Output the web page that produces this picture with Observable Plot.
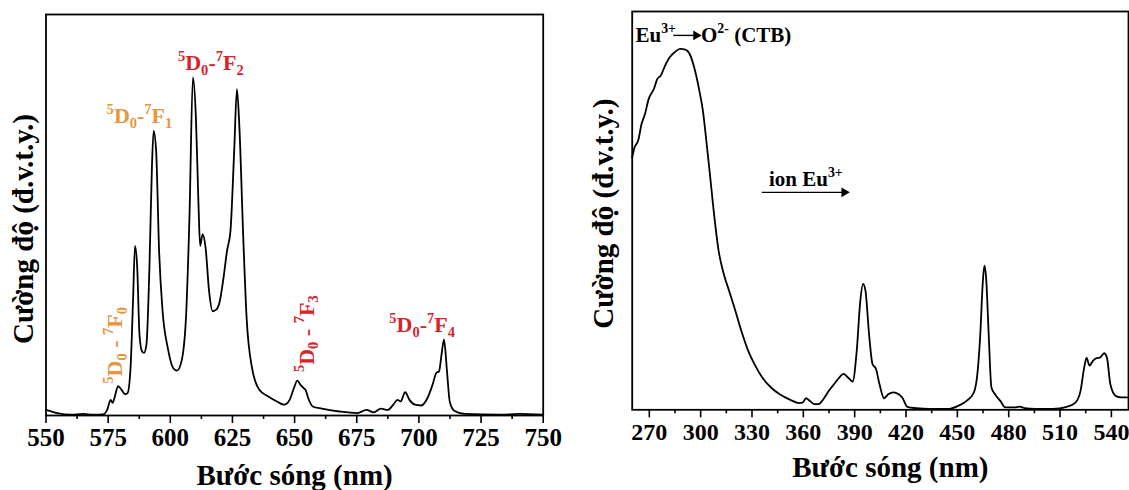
<!DOCTYPE html>
<html><head><meta charset="utf-8">
<script src="https://cdn.jsdelivr.net/npm/d3@7"></script>
<script src="https://cdn.jsdelivr.net/npm/@observablehq/plot@0.6"></script>
<style>
body{margin:0;background:#fff;}
#wrap{position:relative;width:1129px;height:490px;overflow:hidden;background:#fff;}
#left{position:absolute;left:0;top:0;}
#right{position:absolute;left:580px;top:0;}
</style></head><body><div id="wrap"><div id="left"></div><div id="right"></div></div>
<script>
// ---- Emission spectrum (left) ----
const emWavelength = [550,554.5,560,565,569,573,574.6,576,576.8,577.5,579,580.4,581.8,582.8,584,585,585.8,586.7,587.6,588.6,589.4,590.4,591.6,592.6,593.3,594.3,595.5,596.9,599,601.2,602.7,604.5,606.3,607.7,609.1,610.3,611.3,612,613,614.2,615.6,617,618.5,619.9,621.4,622.8,624.2,625.7,626.8,627.8,629.3,630.7,632.9,635.8,639.4,642.9,645.8,648,649.7,651.1,652.3,653.7,654.4,655.5,657.3,661,668,675.3,678.9,681.8,684.7,687.5,689.7,691.4,692.6,694.5,696.2,698.4,700.9,703.4,705.5,707,708.1,709.1,710.1,711.3,712.4,714.2,718.5,732.9,740,750];
const emIntensity = [1.4,0.6,0.2,0.4,0.2,0.3,1.4,3.9,3.1,4.3,7.3,6.4,5.3,5.6,11.8,28.5,42.3,36.8,20.2,16,15.6,17.7,36.8,61.8,71,66,41,26,16.8,11.8,11.2,13.5,24.3,49.3,84.3,74.3,53.5,42.3,45.2,41.8,31,26,26.4,28.5,34.3,41,46,66,81.4,71.8,45.2,24.3,11.8,6.4,4.75,3.5,2.7,3.9,6.8,8.7,7.7,6.8,6.4,4.3,2.25,1.7,1,0.6,1.4,0.8,1.7,1.4,2.7,3.9,3.5,5.8,3.9,2.7,2.5,4.3,7.7,10.6,11,15.2,18.9,11,3.5,1.2,0.4,0.2,0.4,0.2];
const emMajorTicks = [550,575,600,625,650,675,700,725,750];
const emMinorTicks = [562.5,587.5,612.5,637.5,662.5,687.5,712.5,737.5];
const emLabelText = ["^{5}D_{0} - ^{7}F_{0}","^{5}D_{0}-^{7}F_{1}","^{5}D_{0}-^{7}F_{2}","^{5}D_{0} - ^{7}F_{3}","^{5}D_{0}-^{7}F_{4}"];
const emLabelX = [577.8,587.6,616.3,654.8,701.3];
const emLabelY = [17.5,74.6,87.8,20.4,22.5];
const emLabelRotate = [-90,0,0,-90,0];
const emLabelColor = ["#e6963c","#e6963c","#d9232b","#d9232b","#d9232b"];

// ---- Excitation spectrum (right) ----
const exWavelength = [260,261.4,263.5,265.5,267.5,269.6,272.7,274.7,276.7,278.8,281.9,284.9,288,291.1,293.5,296.2,299.2,301.3,303.3,305.4,307.4,310.5,313.5,316.6,319.7,323.8,327.8,331.9,336,341.1,346.2,352.4,357.5,359.5,361.6,363.6,366.7,368.7,371.8,374.9,377.9,381,383.4,386.1,388.8,391.2,393.3,394.9,396.3,398.4,400.4,402.5,404.5,407.2,409.6,412.7,415.7,417.8,420.8,426,434.1,444.4,450.5,455.6,459.7,461.7,463.4,464.8,465.8,466.8,468.3,469.9,472,475,478.1,483.2,486.3,489.3,495.5,505.7,513.9,519,522,524.1,525.5,527.2,529.2,531.3,533.3,535.7,537.4,539.4,542.5,545.6,549.2];
const exIntensity = [63.4,65.9,67.6,71.8,74.3,78,80.6,83.1,83.9,86,88.5,89.8,90.6,90.4,89.4,86,80.2,75.1,67.6,59.2,50.8,39.9,34.1,29.9,25.7,19.8,14.8,11.1,8.1,5.6,3.9,2.5,1.7,1.8,2.9,2.3,1.4,1.4,2.7,4.8,6.4,8.1,9,8.1,7.1,14.8,27.4,31.6,29.9,19,11.5,10.2,6.4,2.9,3.9,4.4,3.9,3.1,0.75,0.4,0.2,0.2,1,2.3,4.4,9,19,31.6,36.2,33.2,19,5.6,3.9,2.3,0.6,0.6,0.8,0.4,0.2,0.2,0.75,1.8,4.8,10.6,13,11.1,12.3,13,13.1,14.2,13.1,6.4,3.5,3.1,3.1];
const exMajorTicks = [270,300,330,360,390,420,450,480,510,540];
const exMinorTicks = [285,315,345,375,405,435,465,495,525];
const exLabelText = ["Eu^{3+}","O^{2-} (CTB)","ion Eu^{3+}"];
const exLabelX = [261.9,300.2,339.9];
const exLabelY = [94,94,58];
const exArrowX1 = [284,335.7];
const exArrowX2 = [299.5,386.1];
const exArrowY = [94,54.6];

const xTitle = "Bước sóng (nm)";
const yTitle = "Cường độ (đ.v.t.y.)";

const FONT = "'Liberation Serif','Times New Roman',serif";

function richify(svg) {
  svg.querySelectorAll("text").forEach(t => {
    const s = t.textContent;
    if (!/[\^_]\{/.test(s)) return;
    const fs = parseFloat(getComputedStyle(t).fontSize) || 20;
    while (t.firstChild) t.removeChild(t.firstChild);
    let cur = 0;
    const re = /\^\{([^}]*)\}|_\{([^}]*)\}|([^\^_]+)/g;
    let m;
    while ((m = re.exec(s))) {
      let txt, off, size;
      if (m[1] !== undefined) { txt = m[1]; off = -0.42 * fs; size = 0.66 * fs; }
      else if (m[2] !== undefined) { txt = m[2]; off = 0.22 * fs; size = 0.66 * fs; }
      else { txt = m[3]; off = 0; size = fs; }
      const ts = document.createElementNS("http://www.w3.org/2000/svg", "tspan");
      ts.setAttribute("font-size", size);
      ts.setAttribute("dy", off - cur);
      cur = off;
      ts.textContent = txt;
      t.appendChild(ts);
    }
  });
}

const idxEm = emLabelText.map((_, i) => i);
const left = Plot.plot({
  width: 580, height: 490,
  marginLeft: 45.5, marginRight: 37.3, marginTop: 14, marginBottom: 75,
  style: {fontFamily: FONT, fontWeight: "bold", color: "black", background: "white"},
  x: {domain: [550, 750]},
  y: {domain: [0, 100], axis: null},
  marks: [
    Plot.line(emWavelength, {x: emWavelength, y: emIntensity, curve: "monotone-x", stroke: "black", strokeWidth: 1.8}),
    Plot.axisX(emMajorTicks, {tickSize: 8, tickPadding: 5, fontSize: 25, fontWeight: "bold", strokeWidth: 1.6, label: null}),
    Plot.axisX(emMinorTicks, {tickSize: 4, tickFormat: () => "", strokeWidth: 1.6, label: null}),
    Plot.frame({stroke: "black", strokeWidth: 1.8}),
    Plot.text(idxEm, {x: i => emLabelX[i], y: i => emLabelY[i], text: i => emLabelText[i], rotate: i => emLabelRotate[i], fill: i => emLabelColor[i], fontSize: 22, fontWeight: "bold", textAnchor: "middle"}),
    Plot.text([xTitle], {frameAnchor: "bottom", textAnchor: "middle", lineAnchor: "middle", dy: 60, fontSize: 29, fontWeight: "bold"}),
    Plot.text([yTitle], {frameAnchor: "left", textAnchor: "middle", lineAnchor: "middle", rotate: -90, dx: -22.3, dy: 14, fontSize: 29, fontWeight: "bold"})
  ]
});
document.getElementById("left").appendChild(left);
richify(left);

const idxEx = exLabelText.map((_, i) => i);
const idxAr = exArrowX1.map((_, i) => i);
const right = Plot.plot({
  width: 549, height: 490,
  marginLeft: 51.7, marginRight: 1, marginTop: 11, marginBottom: 80.7,
  style: {fontFamily: FONT, fontWeight: "bold", color: "black", background: "white"},
  x: {domain: [260, 550]},
  y: {domain: [0, 100], axis: null},
  marks: [
    Plot.line(exWavelength, {x: exWavelength, y: exIntensity, curve: "monotone-x", stroke: "black", strokeWidth: 1.8}),
    Plot.axisX(exMajorTicks, {tickSize: 8, tickPadding: 5, fontSize: 24, fontWeight: "bold", strokeWidth: 1.6, label: null}),
    Plot.axisX(exMinorTicks, {tickSize: 4, tickFormat: () => "", strokeWidth: 1.6, label: null}),
    Plot.frame({stroke: "black", strokeWidth: 1.8}),
    Plot.link(idxAr, {x1: i => exArrowX1[i], x2: i => exArrowX2[i] - 3, y1: i => exArrowY[i], y2: i => exArrowY[i], stroke: "black", strokeWidth: 1.4}),
    Plot.dot(idxAr, {x: i => exArrowX2[i] - 2.2, y: i => exArrowY[i], symbol: "triangle", rotate: 90, r: 3.6, fill: "black", stroke: "none"}),
    Plot.text(idxEx, {x: i => exLabelX[i], y: i => exLabelY[i], text: i => exLabelText[i], fill: "black", fontSize: 21, fontWeight: "bold", textAnchor: "start"}),
    Plot.text([xTitle], {frameAnchor: "bottom", textAnchor: "middle", lineAnchor: "middle", dx: 10, dy: 58.4, fontSize: 29, fontWeight: "bold"}),
    Plot.text([yTitle], {frameAnchor: "left", textAnchor: "middle", lineAnchor: "middle", rotate: -90, dx: -28.9, dy: 3, fontSize: 29, fontWeight: "bold"})
  ]
});
document.getElementById("right").appendChild(right);
richify(right);
</script>
</body></html>
